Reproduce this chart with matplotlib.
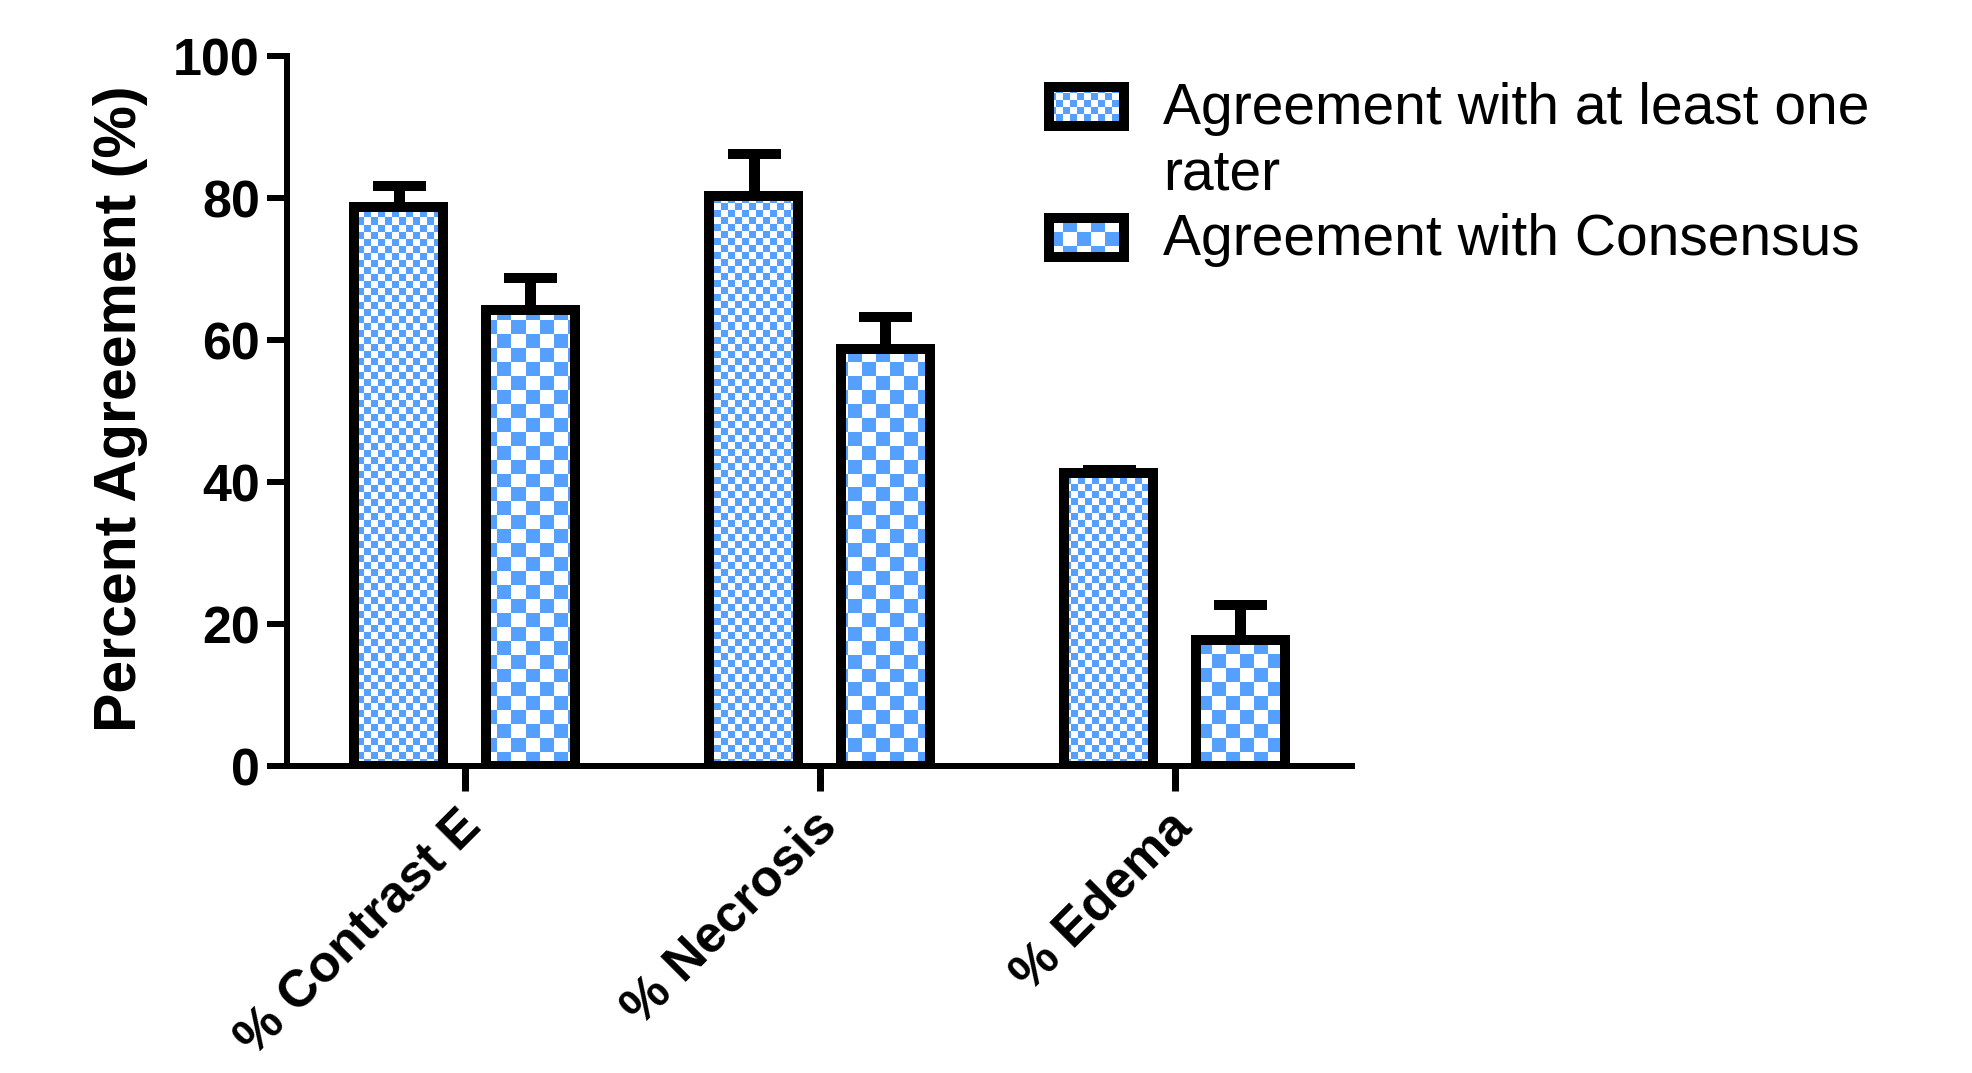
#!/usr/bin/env python3

import matplotlib
matplotlib.use("Agg")
import matplotlib.pyplot as plt
import numpy as np
from matplotlib.colors import ListedColormap
from matplotlib.transforms import ScaledTranslation


# Data

categories = ["% Contrast E", "% Necrosis", "% Edema"]
series_names = ["Agreement with at least one\nrater", "Agreement with Consensus"]
at_least_one = [78.7, 80.3, 41.2]
at_least_one_err = [3.0, 5.9, 0.5]
consensus = [64.2, 58.7, 17.7]
consensus_err = [4.5, 4.5, 5.0]
yticks = [0, 20, 40, 60, 80, 100]

W, H, DPI = 1972, 1073, 72
blue = "#55A0FF"
cmap = ListedColormap(["white", blue])


def checker(nx, ny):
    return np.add.outer(np.arange(ny), np.arange(nx)) % 2


plt.rcParams["font.family"] = ["Liberation Sans", "DejaVu Sans"]

fig = plt.figure(figsize=(W / DPI, H / DPI), dpi=DPI)
ax_w, ax_h = 1065, 710
ax = fig.add_axes([287 / W, 1 - 766 / H, ax_w / W, ax_h / H])

x = np.arange(len(categories))
offsets = [-0.185, 0.185]
width = 0.25
check_px = [7, 14]

for vals, errs, off, cp in zip([at_least_one, consensus],
                               [at_least_one_err, consensus_err],
                               offsets, check_px):
    bars = ax.bar(x + off, vals, width, color="white", edgecolor="none", zorder=2)
    img = checker(int(round(ax_w / cp)), int(round(ax_h / cp)))
    for b in bars:
        im = ax.imshow(img, cmap=cmap, vmin=0, vmax=1, extent=(-0.5, 2.5, 0, 100),
                       origin="lower", interpolation="nearest", aspect="auto", zorder=2.5)
        im.set_clip_path(b)
    ax.bar(x + off, vals, width, facecolor="none", edgecolor="black",
           linewidth=10, zorder=3)
    ax.errorbar(x + off, vals, yerr=[np.zeros(len(vals)), errs], fmt="none",
                ecolor="black", elinewidth=11, capsize=26.5, capthick=10, zorder=1.5)

ax.set_xlim(-0.5, 2.5)
ax.set_ylim(0, 100)

for s in ["top", "right"]:
    ax.spines[s].set_visible(False)
for s in ["left", "bottom"]:
    ax.spines[s].set_linewidth(6)

ax.set_yticks(yticks, labels=[str(t) for t in yticks], fontsize=52, fontweight="bold")
ax.tick_params(axis="y", length=20, width=6, pad=7)
ax.set_xticks(x, labels=categories, fontsize=52, fontweight="bold",
              rotation=45, ha="right", va="top", rotation_mode="anchor")
ax.tick_params(axis="x", length=25, width=7, pad=11)
for lbl in ax.get_xticklabels():
    lbl.set_transform(lbl.get_transform() + ScaledTranslation(-8 / DPI, 0, fig.dpi_scale_trans))

ax.set_ylabel("Percent Agreement (%)", fontsize=59, fontweight="bold", va="center")
ax.yaxis.set_label_coords((121 - 287) / ax_w, 0.503)

# legend, drawn by hand so the checker fill shows
leg_boxes = [(1049, 86.5, 74.5, 39), (1049, 218, 74.5, 39)]
leg_baselines = [190, 255]  # baseline of the last line of each label
for name, (bx, by, bw, bh), base, cp in zip(series_names, leg_boxes, leg_baselines, check_px):
    lax = fig.add_axes([bx / W, 1 - (by + bh) / H, bw / W, bh / H])
    nx, ny = int(np.ceil(bw / cp)) + 1, int(np.ceil(bh / cp)) + 1
    lax.imshow(checker(nx, ny), cmap=cmap, vmin=0, vmax=1,
               extent=(0, nx * cp, bh - ny * cp, bh), origin="upper",
               interpolation="nearest", aspect="auto")
    lax.set_xlim(0, bw)
    lax.set_ylim(0, bh)
    lax.set_xticks([])
    lax.set_yticks([])
    for s in lax.spines.values():
        s.set_linewidth(10)
    fig.text(1163 / W, 1 - base / H, name, fontsize=57, va="baseline", ha="left",
             linespacing=1.28)

fig.savefig("out.png", dpi=DPI)
